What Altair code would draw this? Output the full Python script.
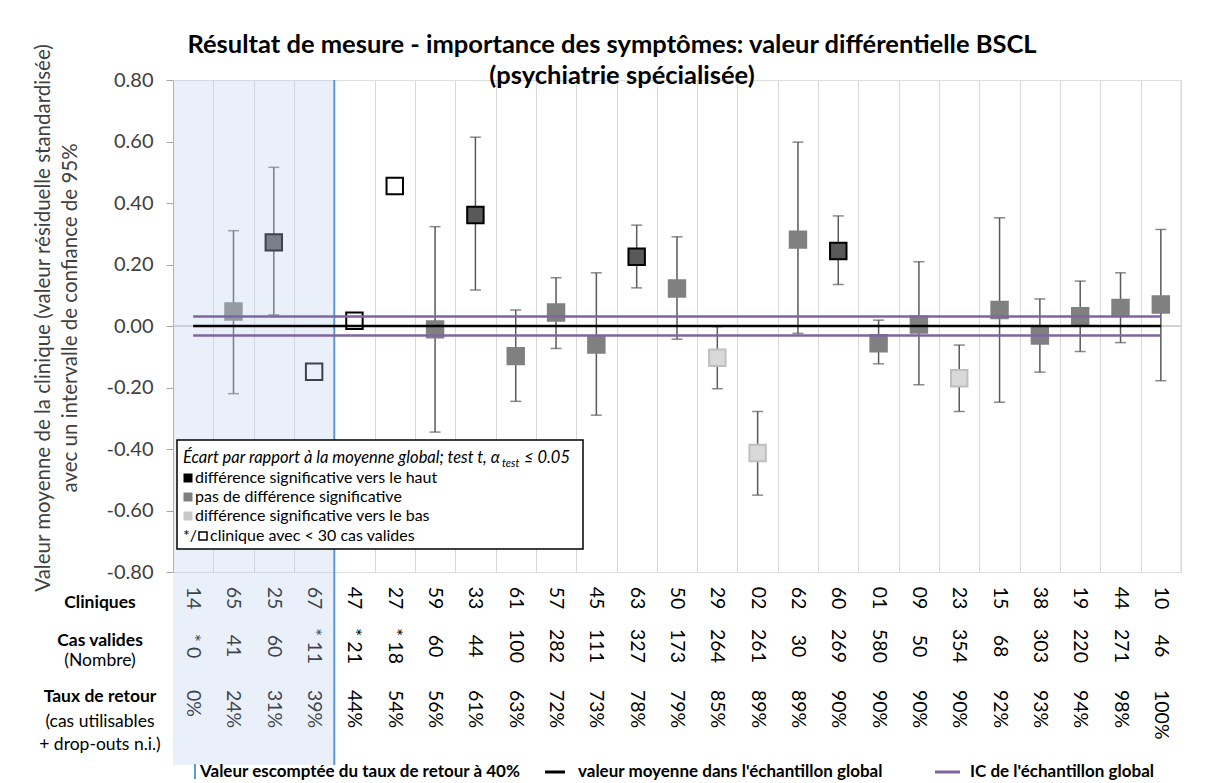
import altair as alt
import pandas as pd

# ---------------- data ----------------
clinics = ["14", "65", "25", "67", "47", "27", "59", "33", "61", "57", "45", "63", "50",
           "29", "02", "62", "60", "01", "09", "23", "15", "38", "19", "44", "10"]
cases = ["* 0", "41", "60", "* 11", "* 21", "* 18", "60", "44", "100", "282", "111", "327", "173",
         "264", "261", "30", "269", "580", "50", "354", "68", "303", "220", "271", "46"]
return_rate = [0, 24, 31, 39, 44, 54, 56, 61, 63, 72, 73, 78, 79,
               85, 89, 89, 90, 90, 90, 90, 92, 93, 94, 98, 100]
means = [None, 0.047, 0.272, -0.149, 0.017, 0.455, -0.011, 0.361, -0.098, 0.044, -0.060, 0.225, 0.122,
         -0.103, -0.413, 0.281, 0.244, -0.056, 0.005, -0.170, 0.052, -0.031, 0.032, 0.059, 0.070]
ci_low = [None, -0.220, 0.036, None, None, None, -0.345, 0.117, -0.245, -0.073, -0.290, 0.124, -0.043,
          -0.204, -0.550, -0.024, 0.135, -0.123, -0.191, -0.278, -0.248, -0.150, -0.083, -0.054, -0.178]
ci_high = [None, 0.310, 0.516, None, None, None, 0.323, 0.614, 0.052, 0.157, 0.173, 0.328, 0.290,
           -0.002, -0.278, 0.598, 0.358, 0.019, 0.209, -0.062, 0.352, 0.088, 0.146, 0.173, 0.314]
groups = ["none", "nodiff", "up", "small", "small", "small", "nodiff", "up", "nodiff", "nodiff", "nodiff", "up", "nodiff",
          "down", "down", "nodiff", "up", "nodiff", "nodiff", "down", "nodiff", "nodiff", "nodiff", "nodiff", "nodiff"]
global_mean = 0.0
global_ci_half = 0.031
expected_rate = 40
y_ticks = [-0.8, -0.6, -0.4, -0.2, 0.0, 0.2, 0.4, 0.6, 0.8]

group_domain = ["up", "nodiff", "down", "small"]
fill_range = ["#595959", "#808080", "#d9d9d9", "#ffffff"]
stroke_range = ["#000000", "#808080", "#bfbfbf", "#000000"]

# ---------------- layout ----------------
W, H = 1008, 492
n = len(clinics)
FONT = "Lato"

df = pd.DataFrame({
    "idx": list(range(n)), "clinic": clinics, "cases": cases,
    "rate": [f"{r}%" for r in return_rate], "mean": means,
    "lo": ci_low, "hi": ci_high, "group": groups,
})
pts = df[df["mean"].notna()]
ci = df[df["lo"].notna()]
caps = pd.concat([ci[["idx", "lo"]].rename(columns={"lo": "v"}),
                  ci[["idx", "hi"]].rename(columns={"hi": "v"})])

xscale = alt.Scale(domain=[-0.5, n - 0.5], nice=False, zero=False)
yscale = alt.Scale(domain=[-0.8, 0.8], nice=False, zero=False)
xaxis = alt.Axis(values=[i - 0.5 for i in range(n + 1)], labels=False, ticks=False,
                 domain=False, grid=True, gridColor="#d9d9d9", gridWidth=1, title=None)
yaxis = alt.Axis(values=y_ticks, labelExpr="replace(format(datum.value, '.2f'), '\u2212', '-')",
                 labelFontSize=20, labelFont=FONT, labelColor="#404040", tickSize=7,
                 tickColor="#a6a6a6", domainColor="#a6a6a6", grid=False, title=None,
                 labelPadding=13)


def X(field):
    return alt.X(f"{field}:Q", scale=xscale, axis=xaxis)


def Y(field):
    return alt.Y(f"{field}:Q", scale=yscale, axis=yaxis)


one = pd.DataFrame({"k": [0]})


def label(text, x, y, size=15, weight="normal", style="normal", align="left",
          color="#000000", angle=0, baseline="middle"):
    return alt.Chart(one).mark_text(
        text=text, fontSize=size, fontWeight=weight, fontStyle=style, align=align,
        color=color, angle=angle, baseline=baseline, font=FONT
    ).encode(x=alt.value(x), y=alt.value(y))


# base with axes
base = alt.Chart(pts).mark_point(opacity=0).encode(x=X("idx"), y=Y("mean"))

zero_line = alt.Chart(pd.DataFrame({"z": [0.0]})).mark_rule(color="#a6a6a6", strokeWidth=1).encode(
    y=Y("z"), x=alt.value(0), x2=alt.value(W))
right_edge = alt.Chart(one).mark_rule(color="#d9d9d9", strokeWidth=1).encode(
    x=alt.value(W), y=alt.value(0), y2=alt.value(H))

bars = alt.Chart(ci).mark_rule(color="#595959", strokeWidth=1.5).encode(
    x=X("idx"), y=Y("lo"), y2="hi")
cap_marks = alt.Chart(caps).mark_tick(orient="horizontal", size=11, thickness=1.5, color="#595959").encode(
    x=X("idx"), y=Y("v"))

markers = alt.Chart(pts).mark_square(size=270, strokeWidth=2, opacity=1, filled=True).encode(
    x=X("idx"), y=Y("mean"),
    fill=alt.Fill("group:N", scale=alt.Scale(domain=group_domain, range=fill_range), legend=None),
    stroke=alt.Stroke("group:N", scale=alt.Scale(domain=group_domain, range=stroke_range), legend=None),
)

# mean lines
mean_df = pd.DataFrame({"idx": [0, n - 1], "m": [global_mean] * 2,
                        "u": [global_mean + global_ci_half] * 2,
                        "l": [global_mean - global_ci_half] * 2})
line_black = alt.Chart(mean_df).mark_line(color="#000000", strokeWidth=2.5).encode(x=X("idx"), y=Y("m"))
line_up = alt.Chart(mean_df).mark_line(color="#8064a2", strokeWidth=2.5).encode(x=X("idx"), y=Y("u"))
line_lo = alt.Chart(mean_df).mark_line(color="#8064a2", strokeWidth=2.5).encode(x=X("idx"), y=Y("l"))

# row labels
ROW_C, ROW_N, ROW_T = 518, 566, 610
LAB = 19.5
lab_clin = alt.Chart(df).mark_text(angle=90, fontSize=LAB, font=FONT, align="center", baseline="middle",
                                   color="#000000").encode(x=X("idx"), y=alt.value(ROW_C), text="clinic:N")
lab_case = alt.Chart(df).mark_text(angle=90, fontSize=LAB, font=FONT, align="center", baseline="middle",
                                   color="#000000").encode(x=X("idx"), y=alt.value(ROW_N), text="cases:N")
lab_rate = alt.Chart(df).mark_text(angle=90, fontSize=LAB, font=FONT, align="left", baseline="middle",
                                   color="#000000").encode(x=X("idx"), y=alt.value(ROW_T), text="rate:N")

# shading for clinics under expected return rate
boundary = sum(1 for r in return_rate if r < expected_rate) - 0.5
shade_df = pd.DataFrame({"a": [-0.5], "b": [boundary]})
SH_BOTTOM = 685
shade = alt.Chart(shade_df).mark_rect(fill="#bcd0ee", opacity=0.32).encode(
    x=X("a"), x2="b", y=alt.value(0), y2=alt.value(SH_BOTTOM))
blue_line = alt.Chart(shade_df).mark_rule(color="#5b9bd5", strokeWidth=2).encode(
    x=X("b"), y=alt.value(0), y2=alt.value(SH_BOTTOM))

# legend box
box = alt.Chart(one).mark_rect(fill="white", stroke="#000000", strokeWidth=1.5).encode(
    x=alt.value(4), x2=alt.value(410), y=alt.value(360), y2=alt.value(469))
leg_title = label("Écart par rapport à la moyenne global; test t, α", 10, 378, size=16.5, style="italic")
leg_sub = label("test", 329, 384, size=11, style="italic")
leg_le = label("≤ 0.05", 351, 378, size=16.5, style="italic")
sq_up = alt.Chart(one).mark_square(size=81, fill="#000000", opacity=1).encode(x=alt.value(15), y=alt.value(398))
sq_nd = alt.Chart(one).mark_square(size=81, fill="#808080", opacity=1).encode(x=alt.value(15), y=alt.value(417))
sq_dn = alt.Chart(one).mark_square(size=81, fill="#c8c8c8", opacity=1).encode(x=alt.value(15), y=alt.value(436))
sq_op = alt.Chart(one).mark_square(size=64, fill="#ffffff", stroke="#000000", strokeWidth=1.5, opacity=1).encode(
    x=alt.value(30), y=alt.value(456))
leg1 = label("différence significative vers le haut", 22, 398, size=16)
leg2 = label("pas de différence significative", 22, 417, size=16)
leg3 = label("différence significative vers le bas", 22, 436, size=16)
leg4a = label("*/", 10, 456, size=16)
leg4b = label("clinique avec < 30 cas valides", 37, 456, size=16)

# titles
title1 = label("Résultat de mesure - importance des symptômes: valeur différentielle BSCL", 439, -27,
               size=25.5, weight="bold", align="center", baseline="alphabetic")
title2 = label("(psychiatrie spécialisée)", 449, 4, size=25.5, weight="bold", align="center",
               baseline="alphabetic")
ytitle1 = label("Valeur moyenne de la clinique (valeur résiduelle standardisée)", -129, H / 2 - 8, size=20.5,
                align="center", angle=270, color="#404040")
ytitle2 = label("avec un intervalle de confiance de 95%", -102, H / 2 - 8, size=20.5,
                align="center", angle=270, color="#404040")

# row headers
HX = -73
hdr = [
    label("Cliniques", HX, 523, size=17.5, weight="bold", align="center"),
    label("Cas valides", HX, 561, size=17.5, weight="bold", align="center"),
    label("(Nombre)", HX, 581, size=17.5, align="center"),
    label("Taux de retour", HX, 617, size=17.5, weight="bold", align="center"),
    label("(cas utilisables", HX, 642, size=17.5, align="center"),
    label("+ drop-outs n.i.)", HX, 665, size=17.5, align="center"),
]

# bottom legend
LY = 692
bl_blue = alt.Chart(one).mark_rule(color="#5b9bd5", strokeWidth=2).encode(
    x=alt.value(22), y=alt.value(LY - 8), y2=alt.value(LY + 7))
bl_t1 = label("Valeur escomptée du taux de retour à 40%", 27, LY, size=17, weight="bold")
bl_black = alt.Chart(one).mark_rule(color="#000000", strokeWidth=3).encode(
    x=alt.value(372), x2=alt.value(392), y=alt.value(LY))
bl_t2 = label("valeur moyenne dans l'échantillon global", 405, LY, size=17, weight="bold")
bl_purple = alt.Chart(one).mark_rule(color="#8064a2", strokeWidth=3).encode(
    x=alt.value(762), x2=alt.value(787), y=alt.value(LY))
bl_t3 = label("IC de l'échantillon global", 797, LY, size=17, weight="bold")

chart = alt.layer(
    base, zero_line, right_edge, bars, cap_marks, markers,
    lab_clin, lab_case, lab_rate,
    shade, blue_line, line_black, line_up, line_lo,
    box, leg_title, leg_sub, leg_le, sq_up, sq_nd, sq_dn, sq_op, leg1, leg2, leg3, leg4a, leg4b,
    title1, title2, ytitle1, ytitle2, *hdr,
    bl_blue, bl_t1, bl_black, bl_t2, bl_purple, bl_t3,
).properties(
    width=W, height=H,
    padding={"left": 165, "top": 72, "right": 17, "bottom": 775 - 72 - H},
    autosize=alt.AutoSizeParams(type="none"),
).configure_view(stroke=None).configure(font=FONT, background="white")

chart.save("out.html", embed_options={"renderer": "svg", "actions": False})
